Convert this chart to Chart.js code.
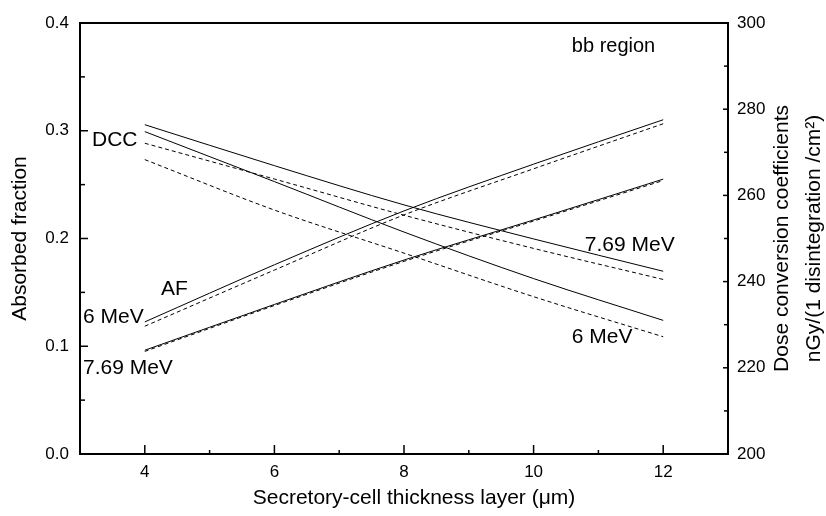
<!DOCTYPE html>
<html>
<head>
<meta charset="utf-8">
<script src="https://cdn.jsdelivr.net/npm/chart.js@4"></script>
<style>
  body { margin: 0; background: #fff; }
</style>
</head>
<body>
<canvas id="afChart" width="826" height="516"></canvas>
<script>
// secretory-cell thickness (um)
var thickness = [4, 6, 8, 10, 12];

// absorbed fraction (left axis)
var af6MeV      = [0.1226, 0.1756, 0.2256, 0.2690, 0.3102];
var af6MeVAlt   = [0.1186, 0.1707, 0.2219, 0.2647, 0.3065];
var af769MeV    = [0.0963, 0.1388, 0.1800, 0.2172, 0.2551];
var af769MeVAlt = [0.0952, 0.1378, 0.1788, 0.2162, 0.2538];

// dose conversion coefficients (right axis)
var dcc769MeV    = [276.4, 266.9, 257.8, 249.9, 242.4];
var dcc769MeVAlt = [272.1, 263.8, 255.4, 247.7, 240.5];
var dcc6MeV      = [274.8, 263.2, 251.5, 240.7, 231.0];
var dcc6MeVAlt   = [268.3, 256.6, 246.6, 236.5, 227.2];

var xTicks = [4, 6, 8, 10, 12];
var leftTicks = [0, 0.1, 0.2, 0.3, 0.4];
var rightTicks = [200, 220, 240, 260, 280, 300];

var FONT = "'Liberation Sans', Arial, Helvetica, sans-serif";

function pts(ys) {
  return thickness.map(function(x, i) { return { x: x, y: ys[i] }; });
}

function series(label, ys, axis, dashed) {
  return {
    label: label,
    data: pts(ys),
    yAxisID: axis,
    borderColor: "#000",
    borderWidth: 1,
    borderDash: dashed ? [4, 3] : [],
    pointRadius: 0,
    fill: false,
    cubicInterpolationMode: "monotone"
  };
}

// text placed in data units of the x / left y scales
var notes = [
  { text: "DCC", x: 3.185, y: 0.2916 },
  { text: "AF", x: 4.25, y: 0.153 },
  { text: "6 MeV", x: 3.046, y: 0.127 },
  { text: "7.69 MeV", x: 3.046, y: 0.0795 },
  { text: "7.69 MeV", x: 10.79, y: 0.194 },
  { text: "6 MeV", x: 10.59, y: 0.1084 },
  { text: "bb region", x: 10.59, y: 0.378, size: 20 }
];

var decorations = {
  id: "decorations",
  afterDraw: function(chart) {
    var ctx = chart.ctx;
    var area = chart.chartArea;
    var sx = chart.scales.x, sy = chart.scales.y, sr = chart.scales.y1;
    ctx.save();
    ctx.strokeStyle = "#000";
    ctx.lineWidth = 2;
    // top frame line
    ctx.beginPath();
    ctx.moveTo(area.left - 1, area.top);
    ctx.lineTo(area.right + 1, area.top);
    ctx.stroke();

    ctx.lineWidth = 1.5;
    var v, p;
    // x ticks (inward)
    for (v = 4; v <= 12; v += 1) {
      p = sx.getPixelForValue(v);
      var len = (v % 2 === 0) ? 9 : 4;
      ctx.beginPath();
      ctx.moveTo(p, area.bottom);
      ctx.lineTo(p, area.bottom - len);
      ctx.stroke();
    }
    // left ticks
    for (v = 0; v <= 8; v++) {
      p = sy.getPixelForValue(v * 0.05);
      var l2 = (v % 2 === 0) ? 8 : 5;
      ctx.beginPath();
      ctx.moveTo(area.left, p);
      ctx.lineTo(area.left + l2, p);
      ctx.stroke();
    }
    // right ticks
    for (v = 200; v <= 300; v += 10) {
      p = sr.getPixelForValue(v);
      var l3 = (v % 20 === 0) ? 5 : 4;
      ctx.beginPath();
      ctx.moveTo(area.right, p);
      ctx.lineTo(area.right - l3, p);
      ctx.stroke();
    }

    // annotations
    ctx.fillStyle = "#000";
    ctx.textBaseline = "middle";
    ctx.textAlign = "left";
    notes.forEach(function(n) {
      ctx.font = (n.size || 21) + "px " + FONT;
      ctx.fillText(n.text, sx.getPixelForValue(n.x), sy.getPixelForValue(n.y));
    });

    // axis titles
    var midY = (area.top + area.bottom) / 2;
    ctx.font = "21px " + FONT;
    ctx.textAlign = "center";
    ctx.fillText("Secretory-cell thickness layer (\u03bcm)", 414, 498);

    ctx.save();
    ctx.translate(20, midY);
    ctx.rotate(-Math.PI / 2);
    ctx.fillText("Absorbed fraction", 0, 0);
    ctx.restore();

    ctx.save();
    ctx.translate(782, midY);
    ctx.rotate(-Math.PI / 2);
    ctx.fillText("Dose conversion coefficients", 0, 0);
    ctx.fillText("nGy/(1 disintegration /cm\u00b2)", 0, 32);
    ctx.restore();

    ctx.restore();
  }
};

var afCanvas = document.getElementById("afChart").getContext("2d");

var afChart = new Chart(afCanvas, {
  type: "line",
  data: {
    datasets: [
      series("AF 6 MeV", af6MeV, "y", false),
      series("AF 6 MeV (alt)", af6MeVAlt, "y", true),
      series("AF 7.69 MeV", af769MeV, "y", false),
      series("AF 7.69 MeV (alt)", af769MeVAlt, "y", true),
      series("DCC 7.69 MeV", dcc769MeV, "y1", false),
      series("DCC 7.69 MeV (alt)", dcc769MeVAlt, "y1", true),
      series("DCC 6 MeV", dcc6MeV, "y1", false),
      series("DCC 6 MeV (alt)", dcc6MeVAlt, "y1", true)
    ]
  },
  options: {
    responsive: false,
    animation: false,
    layout: { padding: { top: 23 } },
    plugins: { legend: { display: false }, tooltip: { enabled: false } },
    scales: {
      x: {
        type: "linear",
        min: 3,
        max: 13,
        afterBuildTicks: function(axis) {
          axis.ticks = xTicks.map(function(v) { return { value: v }; });
        },
        afterFit: function(axis) { axis.height = 62; },
        grid: { display: false, drawTicks: false },
        border: { display: true, color: "#000", width: 2 },
        ticks: { color: "#000", padding: 8, font: { family: FONT, size: 17 } }
      },
      y: {
        position: "left",
        min: 0,
        max: 0.4,
        afterBuildTicks: function(axis) {
          axis.ticks = leftTicks.map(function(v) { return { value: v }; });
        },
        afterFit: function(axis) { axis.width = 80; },
        grid: { display: false, drawTicks: false },
        border: { display: true, color: "#000", width: 2 },
        ticks: {
          color: "#000", padding: 11, font: { family: FONT, size: 17 },
          callback: function(v) { return v.toFixed(1); }
        }
      },
      y1: {
        position: "right",
        min: 200,
        max: 300,
        afterBuildTicks: function(axis) {
          axis.ticks = rightTicks.map(function(v) { return { value: v }; });
        },
        afterFit: function(axis) { axis.width = 98; },
        grid: { display: false, drawTicks: false },
        border: { display: true, color: "#000", width: 2 },
        ticks: { color: "#000", padding: 9, font: { family: FONT, size: 17 } }
      }
    }
  },
  plugins: [decorations]
});
</script>
</body>
</html>
